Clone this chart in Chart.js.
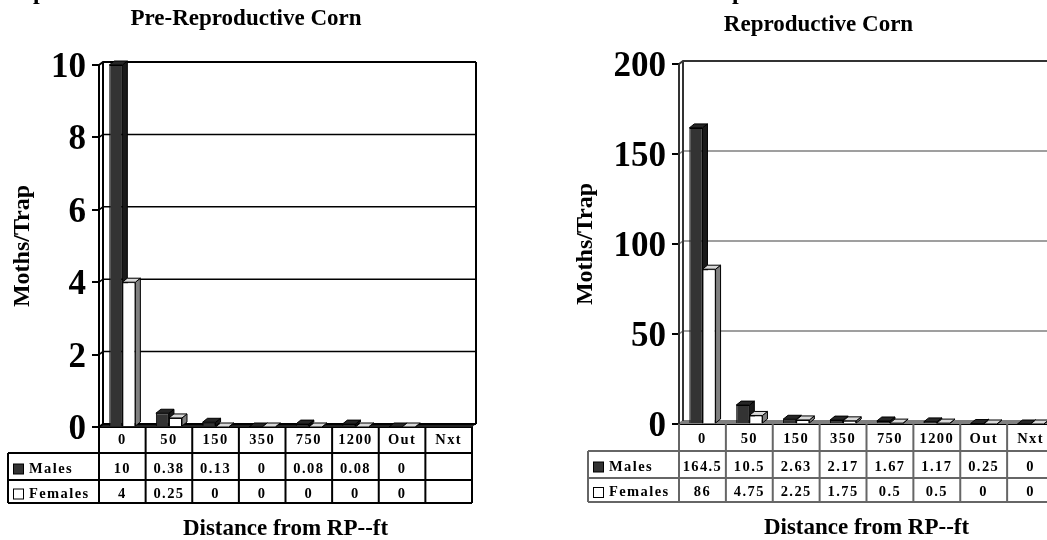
<!DOCTYPE html>
<html>
<head>
<meta charset="utf-8">
<style>
  html, body { margin: 0; padding: 0; background: #fff; overflow: hidden; width: 1047px; height: 540px; }
  canvas { position: absolute; top: 0; }
</style>
<script src="https://cdn.jsdelivr.net/npm/chart.js@4"></script>
</head>
<body>
<canvas id="left" style="left:0"></canvas>
<canvas id="right" style="left:570px"></canvas>
<script>
"use strict";

var categories = ['0', '50', '150', '350', '750', '1200', 'Out', 'Nxt'];
var seriesNames = ['Males', 'Females'];

var malesPre = [10, 0.38, 0.13, 0, 0.08, 0.08, 0, null];
var femalesPre = [4, 0.25, 0, 0, 0, 0, 0, null];
var malesRepro = [164.5, 10.5, 2.63, 2.17, 1.67, 1.17, 0.25, 0];
var femalesRepro = [86, 4.75, 2.25, 1.75, 0.5, 0.5, 0, 0];

var FONT = '"Liberation Serif", serif';
var CANVAS_H = 544;

function drawBarSides(chart, index, d) {
  var c = chart.ctx;
  var ds = chart.data.datasets[index];
  chart.getDatasetMeta(index).data.forEach(function(el, i) {
    if (ds.data[i] === null) return;
    var p = el.getProps(['x', 'y', 'base', 'width'], true);
    var l = p.x - p.width / 2, r = p.x + p.width / 2;
    c.fillStyle = ds.sideColor;
    c.beginPath();
    c.moveTo(r, p.base);
    c.lineTo(r + d[0], p.base - d[1]);
    c.lineTo(r + d[0], p.y - d[1]);
    c.lineTo(r, p.y);
    c.closePath();
    c.fill();
    c.stroke();
    c.fillStyle = ds.topColor;
    c.beginPath();
    c.moveTo(l, p.y);
    c.lineTo(l + d[0], p.y - d[1]);
    c.lineTo(r + d[0], p.y - d[1]);
    c.lineTo(r, p.y);
    c.closePath();
    c.fill();
    c.stroke();
  });
}

// table under the plot, 3d walls and bar sides
var look3d = {
  id: 'look3d',
  afterLayout: function(chart) {
    // title is centred on the whole canvas, not on the plot
    chart.titleBlock.right = chart.width;
  },
  beforeDatasetsDraw: function(chart, args, o) {
    var c = chart.ctx, a = chart.chartArea, y = chart.scales.y;
    var d = o.wall;
    c.save();
    // floor
    c.fillStyle = o.floor;
    c.beginPath();
    c.moveTo(a.left, a.bottom);
    c.lineTo(a.left + d[0], a.bottom - d[1]);
    c.lineTo(a.right + d[0], a.bottom - d[1]);
    c.lineTo(a.right, a.bottom);
    c.fill();
    // grid on the back wall, with the little step back to the front ticks
    y.ticks.forEach(function(t) {
      var py = y.getPixelForValue(t.value);
      c.strokeStyle = t.value === y.max ? o.frame : o.grid;
      c.lineWidth = t.value === y.max || t.value === 0 ? 2 : 1.5;
      c.beginPath();
      c.moveTo(a.left, py);
      c.lineTo(a.left + d[0], py - d[1]);
      c.lineTo(a.right + d[0], py - d[1]);
      c.stroke();
    });
    c.strokeStyle = o.frame;
    c.lineWidth = 2;
    c.beginPath();
    c.moveTo(a.left, a.top);
    c.lineTo(a.left, a.bottom);
    c.moveTo(a.left + d[0], a.top - d[1]);
    c.lineTo(a.left + d[0], a.bottom - d[1]);
    c.moveTo(a.right + d[0], a.top - d[1]);
    c.lineTo(a.right + d[0], a.bottom - d[1]);
    c.stroke();
    // all sides first, the fronts of the bars go over them
    c.strokeStyle = '#000';
    c.lineWidth = 1;
    drawBarSides(chart, 0, o.bar);
    drawBarSides(chart, 1, o.bar);
    c.restore();
  },
  afterDatasetsDraw: function(chart) {
    // x tick labels are drawn right after this (ticks.z = 1)
    chart.ctx.letterSpacing = '1.4px';
  },
  afterDraw: function(chart, args, o) {
    var c = chart.ctx, x = chart.scales.x, a = chart.chartArea;
    var rows = o.rows;
    c.save();
    c.strokeStyle = o.table;
    c.lineWidth = 2;
    c.beginPath();
    var step = (a.right - a.left) / categories.length;
    for (var i = 0; i <= categories.length; i++) {
      c.moveTo(a.left + i * step, a.bottom);
      c.lineTo(a.left + i * step, rows[2]);
    }
    c.moveTo(o.keyLeft, rows[0]);
    c.lineTo(o.keyLeft, rows[2]);
    rows.forEach(function(ry) {
      c.moveTo(o.keyLeft, ry);
      c.lineTo(a.right, ry);
    });
    c.stroke();

    c.fillStyle = '#000';
    c.font = 'bold 14.5px ' + FONT;
    c.letterSpacing = '1.4px';
    c.textBaseline = 'middle';
    chart.data.datasets.forEach(function(ds, k) {
      var cy = (k === 0 ? (rows[0] + rows[1]) / 2 : (rows[1] + rows[2]) / 2) + 2.5;
      c.textAlign = 'center';
      ds.data.forEach(function(v, i) {
        if (v !== null) c.fillText(String(v), x.getPixelForTick(i), cy);
      });
      c.fillStyle = ds.backgroundColor;
      c.strokeStyle = '#000';
      c.lineWidth = 1;
      c.fillRect(o.keyLeft + 5.5, cy - 5, 10, 10);
      c.strokeRect(o.keyLeft + 5.5, cy - 5, 10, 10);
      c.fillStyle = '#000';
      c.textAlign = 'left';
      c.fillText(seriesNames[k], o.keyLeft + 21, cy);
    });
    c.letterSpacing = '0px';
    // tails of the line cut off by the top of the picture
    c.font = 'bold 24px ' + FONT;
    c.textBaseline = 'alphabetic';
    o.cutText.forEach(function(t) {
      c.fillText(t[0], t[1], -1.5);
    });
    c.restore();
  }
};

function makeChart(id, o) {
  var canvas = document.getElementById(id);
  canvas.width = o.w;
  canvas.height = CANVAS_H;
  return new Chart(canvas.getContext('2d'), {
    type: 'bar',
    plugins: [look3d],
    data: {
      labels: categories,
      datasets: [{
        label: seriesNames[0],
        data: o.males,
        categoryPercentage: 0.56,
        barPercentage: 1,
        backgroundColor: '#333333',
        sideColor: '#1a1a1a',
        topColor: '#262626',
        borderColor: '#000',
        borderWidth: 1
      }, {
        label: seriesNames[1],
        data: o.females,
        categoryPercentage: 0.56,
        barPercentage: 1,
        backgroundColor: '#ffffff',
        sideColor: '#808080',
        topColor: '#d9d9d9',
        borderColor: '#000',
        borderWidth: 1
      }]
    },
    options: {
      responsive: false,
      animation: false,
      layout: { padding: { left: 0, right: o.padRight, top: 0, bottom: 0 } },
      plugins: {
        legend: { display: false },
        tooltip: { enabled: false },
        title: {
          display: true,
          text: o.title,
          color: '#000',
          font: { family: FONT, size: 23, weight: 'bold' },
          padding: { top: o.titleTop, bottom: o.titleBottom }
        },
        look3d: {
          wall: [4, 3], bar: [5, 4],
          floor: o.floor, grid: o.grid, frame: o.frame, table: o.table,
          rows: o.rows, keyLeft: o.keyLeft, cutText: o.cutText
        }
      },
      scales: {
        x: {
          offset: true,
          afterFit: function(s) { s.height = CANVAS_H - o.base; s.paddingLeft = 0; s.paddingRight = 0; },
          grid: { display: false, drawTicks: false },
          border: { display: true, color: '#000', width: 2 },
          ticks: {
            z: 1, color: '#000', maxRotation: 0, autoSkip: false, padding: o.xTickPad,
            font: { family: FONT, size: 14.5, weight: 'bold' }
          },
          title: {
            display: true,
            text: 'Distance from RP--ft',
            color: '#000',
            padding: { top: 0, bottom: o.xTitleBottom },
            font: { family: FONT, size: 23, weight: 'bold' }
          }
        },
        y: {
          min: 0,
          max: o.max,
          afterFit: function(s) { s.width = o.plotLeft; s.paddingTop = 0; s.paddingBottom = 0; },
          grid: { drawOnChartArea: false, drawTicks: true, tickLength: 7, color: '#000', lineWidth: 2 },
          border: { display: false },
          ticks: {
            stepSize: o.step, color: '#000', padding: 6, labelOffset: 3,
            font: { family: FONT, size: 35, weight: 'bold' }
          },
          title: {
            display: true,
            text: 'Moths/Trap',
            color: '#000',
            padding: { top: o.yTitleTop, bottom: 0 },
            font: { family: FONT, size: 24, weight: 'bold' }
          }
        }
      }
    }
  });
}

window.onload = function() {
  makeChart('left', {
    w: 492, title: 'Pre-Reproductive Corn', males: malesPre, females: femalesPre,
    max: 10, step: 2, plotLeft: 99, padRight: 20, titleTop: 5, titleBottom: 32.4,
    base: 427, rows: [453, 480, 503], keyLeft: 8, yTitleTop: 8, xTitleBottom: 1, xTickPad: 5,
    floor: '#222', grid: '#000', frame: '#000', table: '#000',
    cutText: [['p', 33, 0], ['y', 522, 0]]
  });
  makeChart('right', {
    w: 497, title: 'Reproductive Corn', males: malesRepro, females: femalesRepro,
    max: 200, step: 50, plotLeft: 109, padRight: 13, titleTop: 11, titleBottom: 25.4,
    base: 424, rows: [451, 478, 502], keyLeft: 18, yTitleTop: 1, xTitleBottom: 2, xTickPad: 7,
    floor: '#808080', grid: '#808080', frame: '#333', table: '#666',
    cutText: [['p', 162, 0]]
  });
};
</script>
</body>
</html>
